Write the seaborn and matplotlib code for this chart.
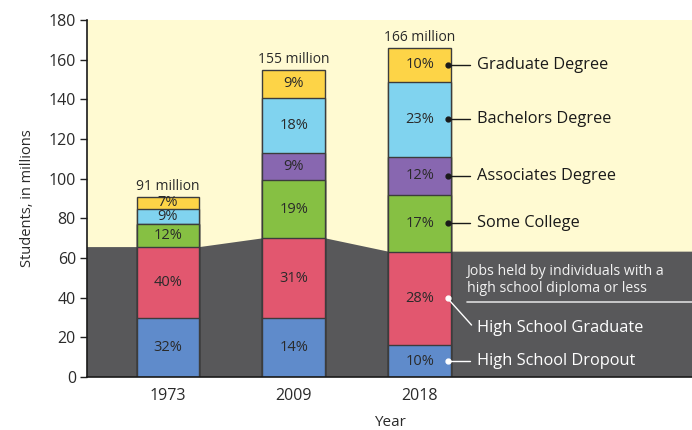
import matplotlib
matplotlib.use("Agg")
import matplotlib.pyplot as plt
import seaborn as sns
import numpy as np
import pandas as pd

years = ["1973", "2009", "2018"]
totals = ["91 million", "155 million", "166 million"]
categories = ["High School Dropout", "High School Graduate", "Some College",
              "Associates Degree", "Bachelors Degree", "Graduate Degree"]
# segment heights as drawn (millions)
dropout = [29.5, 29.7, 16.1]
hs_grad = [36.0, 40.2, 47.1]
some_college = [11.5, 29.4, 28.6]
associates = [0.0, 13.8, 19.3]
bachelors = [7.5, 27.7, 37.8]
graduate = [6.5, 14.2, 17.1]
# percentage labels
pct_dropout = ["32%", "14%", "10%"]
pct_hs_grad = ["40%", "31%", "28%"]
pct_some_college = ["12%", "19%", "17%"]
pct_associates = ["", "9%", "12%"]
pct_bachelors = ["9%", "18%", "23%"]
pct_graduate = ["7%", "9%", "10%"]
yticks = [0, 20, 40, 60, 80, 100, 120, 140, 160, 180]

colors = ["#5f8bcb", "#e2576f", "#86c043", "#8867b0", "#80d3ef", "#fdd447"]
series = [dropout, hs_grad, some_college, associates, bachelors, graduate]
pcts = [pct_dropout, pct_hs_grad, pct_some_college, pct_associates, pct_bachelors, pct_graduate]

sns.set_theme(style="white")
plt.rcParams['font.family'] = ['Open Sans', 'DejaVu Sans']

fig = plt.figure(figsize=(6.92, 4.30), dpi=100)
ax = fig.add_axes([87/692, 53/430, 1 - 87/692, (377-20)/430])
ax.set_facecolor("#fffad2")

cum = np.cumsum(np.array(series), axis=0)
df = pd.DataFrame({"year": years})

# gray region (jobs held by individuals with a high school diploma or less)
hs_top = cum[1]
bw = 0.5
gx = [-1, -bw/2, bw/2, 1 - bw/2, 1 + bw/2, 2 - bw/2, 2 + bw/2, 6]
gy = [hs_top[0], hs_top[0], hs_top[0], hs_top[1], hs_top[1], hs_top[2], hs_top[2], hs_top[2]]
ax.fill_between(gx, 0, gy, color="#58585a", zorder=0.5, linewidth=0)

# stacked bars: draw cumulative heights from top to bottom
for i in range(len(series) - 1, -1, -1):
    d = df.copy()
    d["v"] = cum[i]
    sns.barplot(data=d, x="year", y="v", color=colors[i], width=bw,
                edgecolor="#3c3c3c", linewidth=1.0, saturation=1,
                errorbar=None, ax=ax, zorder=2)

# percent labels
for i in range(len(series)):
    for j in range(len(years)):
        if pcts[i][j]:
            ymid = cum[i][j] - series[i][j] / 2
            ax.text(j, ymid, pcts[i][j], ha="center", va="center",
                    fontsize=10.5, color="#2a2a2a", zorder=5)

# totals
for j in range(len(years)):
    ax.text(j, cum[-1][j] + 1.2, totals[j], ha="center", va="bottom",
            fontsize=10, color="#2a2a2a", zorder=5)

# right side labels for 2018
dot_x = 2.22
for i in range(2, 6):
    ymid = cum[i][2] - series[i][2] / 2
    ax.plot([dot_x, 2.40], [ymid, ymid], color="#1a1a1a", lw=1.0, zorder=6)
    ax.plot(dot_x, ymid, "o", color="#1a1a1a", ms=3.5, zorder=7)
    ax.text(2.45, ymid, categories[i], ha="left", va="center",
            fontsize=11.8, color="#1a1a1a", zorder=6)

# gray region labels
ax.text(2.37, 49, "Jobs held by individuals with a\nhigh school diploma or less",
        ha="left", va="center", fontsize=10.2, color="#f2f2f2",
        linespacing=1.15, zorder=6)
ax.plot([2.37, 6], [38, 38], color="#dcdcdc", lw=1.2, zorder=6)

ymid = cum[1][2] - series[1][2] / 2
ax.plot([dot_x, 2.41], [ymid, 26.2], color="white", lw=1.0, zorder=6)
ax.plot(dot_x, ymid, "o", color="white", ms=3.5, zorder=7)
ax.text(2.45, 24.7, categories[1], ha="left", va="center",
        fontsize=11.8, color="white", zorder=6)

ymid = cum[0][2] - series[0][2] / 2
ax.plot([dot_x, 2.40], [ymid, ymid], color="white", lw=1.0, zorder=6)
ax.plot(dot_x, ymid, "o", color="white", ms=3.5, zorder=7)
ax.text(2.45, ymid, categories[0], ha="left", va="center",
        fontsize=11.8, color="white", zorder=6)

ax.set_xlim(-0.643, 4.16)
ax.set_ylim(0, 180)
ax.set_yticks(yticks)
ax.set_yticklabels([str(t) for t in yticks], fontsize=11.5, color="#2a2a2a")
ax.tick_params(axis="y", which="both", left=True, length=5, width=1, color="#222222", pad=3)
ax.tick_params(axis="x", length=0, labelsize=11.5, labelcolor="#2a2a2a", pad=8)
ax.set_ylabel("Students, in millions", fontsize=10.5, color="#2a2a2a", labelpad=10)
ax.set_xlabel("Year", fontsize=11, color="#2a2a2a", labelpad=8)

for s in ["top", "right"]:
    ax.spines[s].set_visible(False)
ax.spines["left"].set_color("#1a1a1a")
ax.spines["left"].set_linewidth(1.2)
ax.spines["bottom"].set_color("#1a1a1a")
ax.spines["bottom"].set_linewidth(1.2)
ax.spines["left"].set_zorder(10)
ax.spines["bottom"].set_zorder(10)

fig.savefig("out.png", dpi=100)
